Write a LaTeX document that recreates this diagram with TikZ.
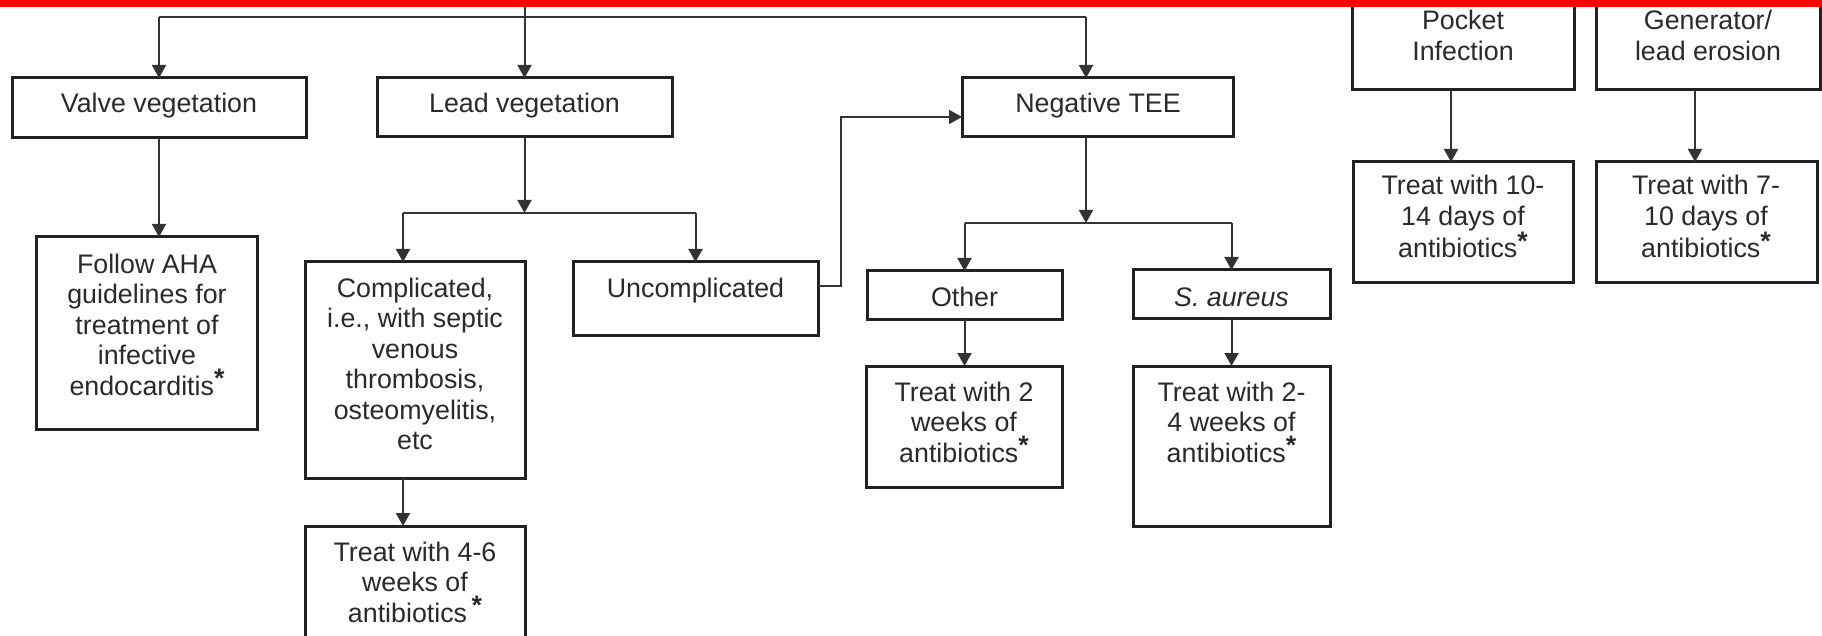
\documentclass[tikz,border=0pt]{standalone}
\usepackage{fontspec}
\setmainfont{Liberation Sans}
\usetikzlibrary{arrows.meta,calc}

\definecolor{boxc}{HTML}{222222}
\definecolor{linec}{HTML}{333333}
\definecolor{txtc}{HTML}{2A2A2A}
\newcommand{\abstar}{\raisebox{0.28em}{\textbf{*}}}

% multi-line labels are anchored on the baseline of their last line
\tikzset{
  box/.style={draw=boxc, line width=3pt, rectangle, inner sep=0pt, outer sep=0pt, anchor=north west},
  lbl/.style={text=txtc, align=center, inner sep=0pt, anchor=base,
              font=\fontsize{26.8}{30.5}\selectfont},
  link/.style={draw=linec, line width=2pt},
  arr/.style={link, -{Triangle[width=14pt,length=13pt]}},
}

\begin{document}
\begin{tikzpicture}[x=1pt,y=-1pt]
\useasboundingbox (0,0) rectangle (1822,636);
\clip (0,0) rectangle (1822,636);
\fill[white] (0,0) rectangle (1822,636);

% ---- boxes ----
\node[box, minimum width=294pt, minimum height=60pt]  (valve)  at (12,78)   {};
\node[box, minimum width=295pt, minimum height=59pt]  (lead)   at (377,78)  {};
\node[box, minimum width=271pt, minimum height=59pt]  (neg)    at (962,78)  {};
\node[box, minimum width=222pt, minimum height=100pt] (pocket) at (1352,-10) {};
\node[box, minimum width=224pt, minimum height=100pt] (gen)    at (1596,-10) {};
\node[box, minimum width=220pt, minimum height=120pt] (t1014)  at (1353,162) {};
\node[box, minimum width=221pt, minimum height=120pt] (t710)   at (1596,162) {};
\node[box, minimum width=221pt, minimum height=192pt] (follow) at (36,237)  {};
\node[box, minimum width=220pt, minimum height=216pt] (comp)   at (305,262) {};
\node[box, minimum width=245pt, minimum height=73pt]  (unc)    at (573,262) {};
\node[box, minimum width=220pt, minimum height=140pt] (t46)    at (305,526) {};
\node[box, minimum width=195pt, minimum height=48pt]  (other)  at (867,271) {};
\node[box, minimum width=197pt, minimum height=48pt]  (sa)     at (1133,270) {};
\node[box, minimum width=196pt, minimum height=121pt] (t2)     at (866,366) {};
\node[box, minimum width=197pt, minimum height=160pt] (t24)    at (1133,366) {};

% ---- texts ----
\node[lbl] (valveT)  at (159,113)  {Valve vegetation};
\node[lbl] (leadT)   at (524.5,113) {Lead vegetation};
\node[lbl] (negT)    at (1098,113) {Negative TEE};
\node[lbl] (pocketT) at (1463,60.5)  {Pocket\\Infection};
\node[lbl] (genT)    at (1708,60.5)  {Generator/\\lead erosion};
\node[lbl] (t1014T)  at (1463,258) {Treat with 10-\\14 days of\\antibiotics\abstar};
\node[lbl] (t710T)   at (1706,258) {Treat with 7-\\10 days of\\antibiotics\abstar};
\node[lbl] (followT) at (147,395)  {Follow AHA\\guidelines for\\treatment of\\infective\\endocarditis\abstar};
\node[lbl] (compT)   at (415,449.5)  {Complicated,\\i.e., with septic\\venous\\thrombosis,\\osteomyelitis,\\etc};
\node[lbl] (uncT)    at (695.5,297) {Uncomplicated};
\node[lbl] (t46T)    at (415,622)  {Treat with 4-6\\weeks of\\antibiotics\,\abstar};
\node[lbl] (otherT)  at (964.5,306) {Other};
\node[lbl] (saT)     at (1231.5,306) {\itshape S. aureus};
\node[lbl] (t2T)     at (964,462)  {Treat with 2\\weeks of\\antibiotics\abstar};
\node[lbl] (t24T)    at (1231.5,462) {Treat with 2-\\4 weeks of\\antibiotics\abstar};

% ---- connectors ----
\coordinate (root) at (524.5,0);
\coordinate (ta) at (159,17);
\coordinate (tb) at (1086,17);
\draw[link] (ta) -- (tb);
\draw[arr] (root) -- (lead.north);
\draw[arr] (ta) -- (valve.north);
\draw[arr] (tb) -- (tb |- neg.north);

\draw[arr] (valve.south) -- (follow.north -| valve.south);

\coordinate (lb) at (524.5,213);
\coordinate (cl) at (403,213);
\coordinate (cr) at (695.5,213);
\draw[arr] (lead.south) -- (lb);
\draw[link] (cl) -- (cr);
\draw[arr] (cl) -- (cl |- comp.north);
\draw[arr] (cr) -- (unc.north);
\draw[arr] (comp.south -| cl) -- (t46.north -| cl);

\coordinate (uj) at (841,117);
\draw[arr] ($(unc.north east)+(0,24)$) -| (uj) -- (uj -| neg.west);

\coordinate (nb) at (1086,223);
\coordinate (ol) at (964.5,223);
\coordinate (sr) at (1231.5,223);
\draw[arr] (neg.south -| nb) -- (nb);
\draw[link] (ol) -- (sr);
\draw[arr] (ol) -- (other.north);
\draw[arr] (sr) -- (sa.north);
\draw[arr] (other.south) -- (t2.north -| other.south);
\draw[arr] (sa.south) -- (t24.north);

\coordinate (px) at (1451,0);
\coordinate (gx) at (1695,0);
\draw[arr] (pocket.south -| px) -- (t1014.north -| px);
\draw[arr] (gen.south -| gx) -- (t710.north -| gx);

% ---- red band along the top edge ----
\fill[red] (0,0) rectangle (1822,7);
\end{tikzpicture}
\end{document}
